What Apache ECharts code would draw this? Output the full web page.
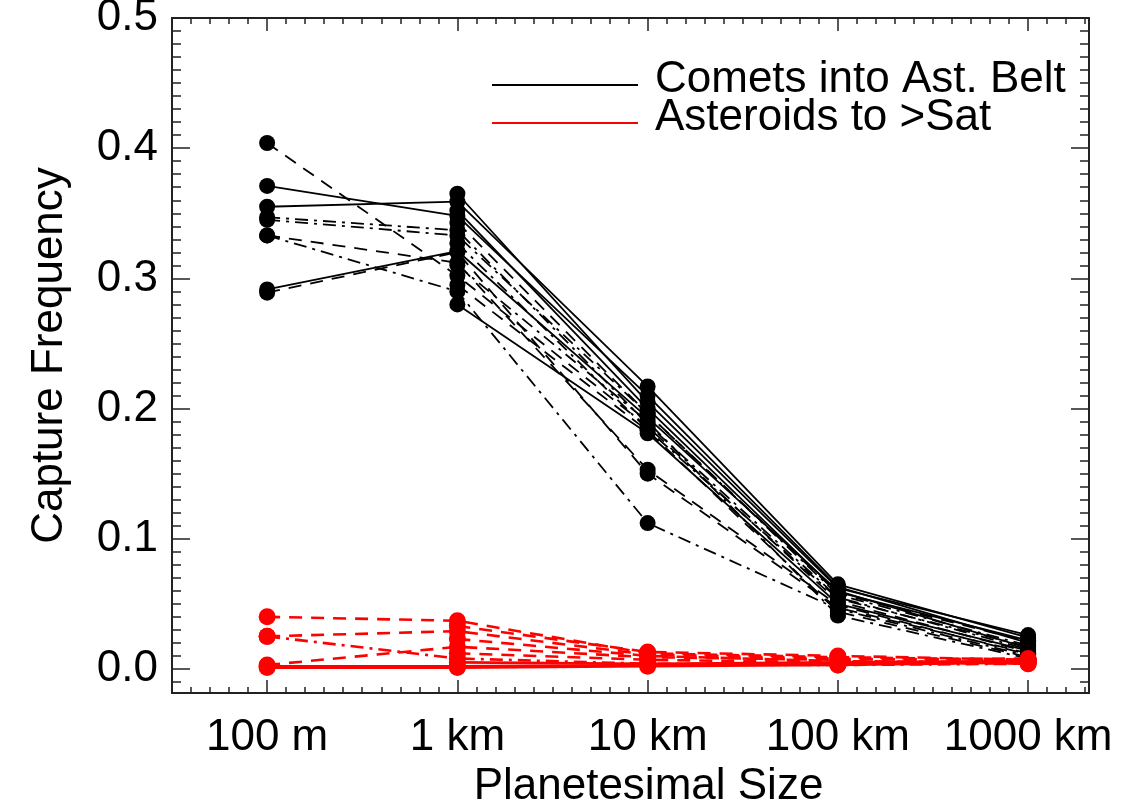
<!DOCTYPE html>
<html>
<head>
<meta charset="utf-8">
<script src="https://cdn.jsdelivr.net/npm/echarts@6/dist/echarts.min.js"></script>
<style>html,body{margin:0;padding:0;background:#fff;}#c{width:1141px;height:803px;}</style>
</head>
<body>
<div id="c"></div>
<script>
// ---- data ----
const sizeLabels = ['100 m', '1 km', '10 km', '100 km', '1000 km'];
const yTickLabels = [0.0, 0.1, 0.2, 0.3, 0.4, 0.5];
const cometName = 'Comets into Ast. Belt';
const asteroidName = 'Asteroids to >Sat';

// capture frequency per run, at [100 m, 1 km, 10 km, 100 km, 1000 km]
const cometRuns = [
  [0.355, 0.359, 0.217, 0.065, 0.024],
  [0.371, 0.348, 0.210, 0.063, 0.020],
  [0.2915, 0.321, 0.193, 0.060, 0.016],
  [0.404, 0.302, 0.186, 0.052, 0.013],
  [0.345, 0.333, 0.196, 0.057, 0.018],
  [0.333, 0.290, 0.112, 0.046, 0.010],
  [0.333, 0.312, 0.153, 0.049, 0.011],
  [0.289, 0.320, 0.150, 0.047, 0.012],
  [0.347, 0.337, 0.188, 0.055, 0.015],
  [null, 0.365, 0.205, 0.062, 0.026],
  [null, 0.352, 0.200, 0.059, 0.022],
  [null, 0.343, 0.196, 0.058, 0.021],
  [null, 0.327, 0.184, 0.054, 0.017],
  [null, 0.280, 0.181, 0.050, 0.014],
  [null, 0.295, 0.183, 0.044, 0.009],
  [null, 0.310, 0.190, 0.041, 0.008]
];
const cometLineKinds = ['solid','solid','solid','dash','dashdot','dashdot','dash','dash','dashdot',
  'solid','solid','dash','dashdot','solid','dash','dashdot'];

const asteroidRuns = [
  [0.040, 0.037, 0.012, 0.009, 0.007],
  [0.025, 0.029, 0.011, 0.008, 0.006],
  [0.025, 0.008, 0.004, 0.003, 0.004],
  [0.003, 0.017, 0.009, 0.007, 0.008],
  [0.002, 0.002, 0.003, 0.004, 0.006],
  [0.001, 0.001, 0.002, 0.003, 0.005],
  [null, 0.033, 0.013, 0.010, 0.007],
  [null, 0.023, 0.010, 0.006, 0.005],
  [null, 0.012, 0.007, 0.005, 0.004],
  [null, 0.005, 0.004, 0.005, 0.006]
];
const asteroidLineKinds = ['dash','dash','dashdot','dash','solid','solid','dash','dash','dash','solid'];

// ---- styling / layout ----
const FONT = '"Liberation Sans", Arial, Helvetica, sans-serif';
const AXIS_COLOR = '#222';
const dashTypes = { solid: 'solid', dash: [13, 9], dashdot: [13, 6, 3, 6] };
const X_MIN = -0.5, X_MAX = 4.32, Y_MIN = -0.0185, Y_MAX = 0.5;

const xMajor = sizeLabels.map((_, i) => i);
const xMinor = [];
for (let k = -5; k <= 43; k++) xMinor.push(+(k / 10).toFixed(2));
const yMinor = [];
for (let k = -1; k <= 50; k++) yMinor.push(+(k / 100).toFixed(2));

function xAxisDef(pos, showLabel, ticks, len) {
  return {
    type: 'value', position: pos, min: X_MIN, max: X_MAX, gridIndex: 0,
    axisLine: { show: true, onZero: false, lineStyle: { color: AXIS_COLOR, width: 2 } },
    axisTick: { show: true, inside: true, length: len, customValues: ticks, lineStyle: { color: AXIS_COLOR, width: 1.5 } },
    axisLabel: showLabel ? {
      show: true, customValues: xMajor, margin: 23, color: '#000', fontSize: 44, fontFamily: FONT,
      formatter: v => sizeLabels[Math.round(v)]
    } : { show: false },
    splitLine: { show: false }, minorTick: { show: false }
  };
}
function yAxisDef(pos, showLabel, ticks, len) {
  return {
    type: 'value', position: pos, min: Y_MIN, max: Y_MAX, gridIndex: 0,
    axisLine: { show: true, onZero: false, lineStyle: { color: AXIS_COLOR, width: 2 } },
    axisTick: { show: true, inside: true, length: len, customValues: ticks, lineStyle: { color: AXIS_COLOR, width: 1.5 } },
    axisLabel: showLabel ? {
      show: true, customValues: yTickLabels, margin: 14, color: '#000', fontSize: 44, fontFamily: FONT,
      formatter: v => v.toFixed(1)
    } : { show: false },
    splitLine: { show: false }, minorTick: { show: false }
  };
}

const xAxes = [
  xAxisDef('bottom', true, xMajor, 13),
  xAxisDef('bottom', false, xMinor, 6),
  xAxisDef('top', false, xMajor, 13),
  xAxisDef('top', false, xMinor, 6)
];
xAxes[0].name = 'Planetesimal Size';
xAxes[0].nameLocation = 'middle';
xAxes[0].nameGap = 64;
xAxes[0].nameTextStyle = { fontSize: 44, fontFamily: FONT, color: '#000', padding: [0, 0, 0, 36] };

const yAxes = [
  yAxisDef('left', true, yTickLabels, 18),
  yAxisDef('left', false, yMinor, 9),
  yAxisDef('right', false, yTickLabels, 18),
  yAxisDef('right', false, yMinor, 9)
];
yAxes[0].name = 'Capture Frequency';
yAxes[0].nameLocation = 'middle';
yAxes[0].nameGap = 100;
yAxes[0].nameTextStyle = { fontSize: 44, fontFamily: FONT, color: '#000' };

function toPoints(run) {
  const pts = [];
  run.forEach((v, i) => { if (v !== null) pts.push([i, v]); });
  return pts;
}

const series = [];
cometRuns.forEach((run, i) => {
  series.push({
    name: cometName, type: 'line', xAxisIndex: 0, yAxisIndex: 0,
    data: toPoints(run), symbol: 'circle', symbolSize: 16, showSymbol: true,
    itemStyle: { color: '#000' },
    lineStyle: { color: '#000', width: 1.8, type: dashTypes[cometLineKinds[i]] },
    emphasis: { disabled: true }, z: 2
  });
});
asteroidRuns.forEach((run, i) => {
  series.push({
    name: asteroidName, type: 'line', xAxisIndex: 0, yAxisIndex: 0,
    data: toPoints(run), symbol: 'circle', symbolSize: 17, showSymbol: true,
    itemStyle: { color: '#ff0000' },
    lineStyle: { color: '#ff0000', width: 2.6, type: dashTypes[asteroidLineKinds[i]] },
    emphasis: { disabled: true }, z: 3
  });
});

// legend icon: thin bar sitting a few px below the text's centre line
const legendIcon = 'path://M0,0L0,0Z M0,10L146,10L146,12L0,12Z';

const chart = echarts.init(document.getElementById('c'), null, { renderer: 'canvas' });
chart.setOption({
  animation: false,
  backgroundColor: '#fff',
  grid: { left: 172, top: 18, right: 52, bottom: 110, containLabel: false, outerBoundsMode: 'none' },
  legend: {
    data: [cometName, asteroidName],
    orient: 'vertical', left: 487, top: 53, itemGap: -6,
    icon: legendIcon, itemWidth: 146, itemHeight: 12, selectedMode: false,
    textStyle: { fontSize: 44, fontFamily: FONT, color: '#000', padding: [0, 0, 0, 12] }
  },
  xAxis: xAxes,
  yAxis: yAxes,
  series: series
});
</script>
</body>
</html>
